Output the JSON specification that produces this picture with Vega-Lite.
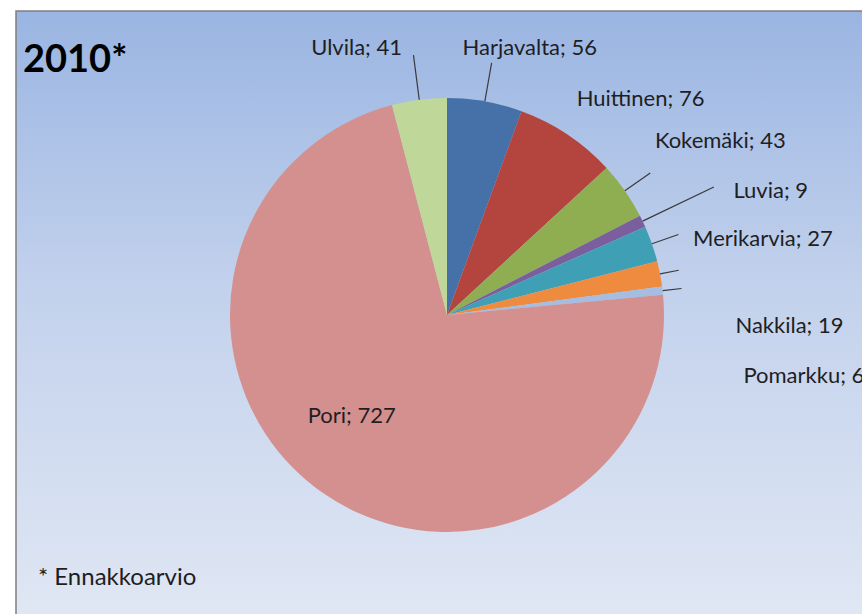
{
  "$schema": "https://vega.github.io/schema/vega-lite/v6.json",
  "width": 862,
  "height": 614,
  "autosize": {"type": "fit", "contains": "padding"},
  "padding": {"left": 15, "top": 10, "right": -17, "bottom": -6},
  "background": "#ffffff",
  "title": {
    "text": "2010*",
    "subtitle": "\u200b\u2002\u2009* Ennakkoarvio",
    "orient": "top",
    "anchor": "start",
    "frame": "group",
    "offset": -580,
    "dx": 7,
    "font": "Lato",
    "fontSize": 38,
    "fontWeight": "bold",
    "color": "#000000",
    "subtitleFont": "Lato",
    "subtitleFontSize": 24,
    "subtitleColor": "#1e1e1e",
    "subtitlePadding": 486
  },
  "config": {
    "view": {"stroke": "#808080", "strokeWidth": 1.5},
    "font": "Lato"
  },
  "data": {
    "values": [
      {"name": "Harjavalta", "value": 56, "label": "Harjavalta; 56"},
      {"name": "Huittinen", "value": 76, "label": "Huittinen; 76"},
      {"name": "Kokemäki", "value": 43, "label": "Kokemäki; 43"},
      {"name": "Luvia", "value": 9, "label": "Luvia; 9"},
      {"name": "Merikarvia", "value": 27, "label": "Merikarvia; 27"},
      {"name": "Nakkila", "value": 19, "label": "Nakkila; 19"},
      {"name": "Pomarkku", "value": 6, "label": "Pomarkku; 6"},
      {"name": "Pori", "value": 727, "label": "Pori; 727"},
      {"name": "Ulvila", "value": 41, "label": "Ulvila; 41"}
    ]
  },
  "layer": [
    {
      "data": {"values": [{"bg": 1}]},
      "mark": {
        "type": "rect",
        "stroke": "#7f7f7f",
        "strokeWidth": 1.5,
        "fill": {
          "gradient": "linear",
          "x1": 0, "y1": 0, "x2": 0, "y2": 1,
          "stops": [
            {"offset": 0, "color": "#9ab5e2"},
            {"offset": 0.45, "color": "#c2d1ec"},
            {"offset": 1, "color": "#e0e7f4"}
          ]
        }
      },
      "encoding": {}
    },
    {
      "mark": {"type": "arc", "radius": 217, "stroke": null},
      "encoding": {
        "theta": {"field": "value", "type": "quantitative", "stack": true},
        "color": {
          "field": "name",
          "type": "nominal",
          "legend": null,
          "scale": {
            "domain": ["Harjavalta", "Huittinen", "Kokemäki", "Luvia", "Merikarvia", "Nakkila", "Pomarkku", "Pori", "Ulvila"],
            "range": ["#4670a8", "#b3443e", "#8fae52", "#7b5e9e", "#3fa0b5", "#ee8b3f", "#a4bde0", "#d4908e", "#c0d79a"]
          }
        }
      }
    },
    {
      "mark": {
        "type": "arc",
        "radius": {"expr": "{'Harjavalta': 256, 'Kokemäki': 248, 'Luvia': 296, 'Merikarvia': 245, 'Nakkila': 236, 'Pomarkku': 236, 'Ulvila': 262}[datum.name] || 217"},
        "radius2": 217,
        "padAngle": 0.6,
        "fill": null,
        "stroke": "#3a3a3a",
        "strokeWidth": 1.2
      },
      "encoding": {
        "theta": {"field": "value", "type": "quantitative", "stack": true},
        "detail": {"field": "name", "type": "nominal"},
        "strokeOpacity": {
          "condition": {"test": "datum.name == 'Pori' || datum.name == 'Huittinen'", "value": 0},
          "value": 1
        }
      }
    },
    {
      "mark": {
        "type": "text",
        "radius": 250,
        "font": "Lato",
        "fontSize": 22,
        "color": "#1e1e24",
        "baseline": "middle",
        "align": {"expr": "datum.name == 'Ulvila' ? 'right' : datum.name == 'Pori' ? 'center' : 'left'"},
        "dx": {"expr": "{'Harjavalta': -28, 'Huittinen': -9, 'Kokemäki': 3, 'Luvia': 61, 'Merikarvia': 10, 'Nakkila': 43, 'Pomarkku': 48, 'Pori': 48, 'Ulvila': -13}[datum.name]"},
        "dy": {"expr": "{'Harjavalta': -21, 'Huittinen': -8, 'Kokemäki': -31, 'Luvia': -16, 'Merikarvia': 6, 'Nakkila': 58, 'Pomarkku': 89, 'Pori': -104, 'Ulvila': -19}[datum.name]"}
      },
      "encoding": {
        "theta": {"field": "value", "type": "quantitative", "stack": true},
        "detail": {"field": "name", "type": "nominal"},
        "text": {"field": "label", "type": "nominal"}
      }
    }
  ]
}
